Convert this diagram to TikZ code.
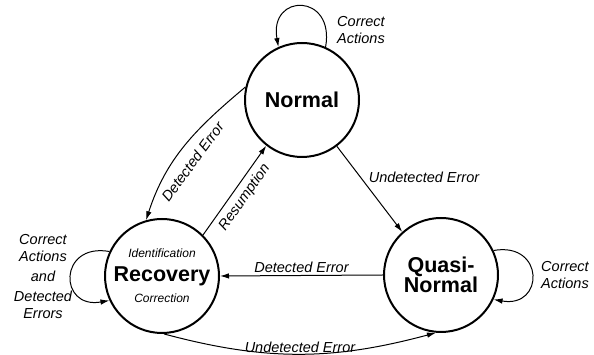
\documentclass[tikz,border=0pt]{standalone}
\usepackage{fontspec}
\setmainfont{Liberation Sans}
\usetikzlibrary{arrows.meta}

\begin{document}
\begin{tikzpicture}[
    x=1pt, y=1pt,
    state/.style={
      circle,
      draw=black,
      line width=2pt,
      minimum size=114pt,
      inner sep=0pt,
      align=center,
      font=\fontsize{21.5}{20.5}\selectfont\bfseries
    },
    trans/.style={
      -{Latex[length=9pt,width=5.5pt]},
      line width=1pt
    },
    lbl/.style={
      font=\fontsize{14.5}{17}\selectfont\itshape,
      inner sep=2pt
    },
    sub/.style={
      font=\fontsize{12}{12}\selectfont\itshape,
      inner sep=0pt
    }
  ]
    \useasboundingbox (0,0) rectangle (594,355);

    % States
    \node[state] (normal) at (302,255) {Normal};
    \node[state] (recovery) at (162,79) {Recovery};
    \node[state] (quasi) at (441,80) {Quasi-\\Normal};

    \node[sub] (ident) at ([yshift=23pt]recovery.center) {Identification};
    \node[sub] (corr) at ([yshift=-22pt]recovery.center) {Correction};

    % Self loops
    \draw[trans] (normal.66) .. controls +(80:55) and +(100:55) .. (normal.114);
    \draw[trans] (recovery.155) .. controls +(170:52) and +(190:52) .. (recovery.205);
    \draw[trans] (quasi.25) .. controls +(10:52) and +(-10:52) .. (quasi.335);

    \node[lbl, align=left] (ca1) at (361,325) {Correct\\Actions};
    \node[lbl, align=left] (ca2) at (565,80) {Correct\\Actions};
    \node[lbl, align=center] (ca3) at (43,78) {Correct\\Actions\\[3pt]and\\[3pt]Detected\\Errors};

    % Transitions
    \draw[trans] (normal.167) to[out=220, in=72]
      node[lbl, sloped, below=8pt, pos=0.55] {Detected Error} (recovery.106);
    \draw[trans] (recovery.45) --
      node[lbl, sloped, below=3pt] {Resumption} (normal.232);
    \draw[trans] (normal.307) --
      node[lbl, pos=0.45, anchor=south west] {Undetected Error} (quasi.132);
    \draw[trans] (quasi.west) --
      node[lbl, above] {Detected Error} (recovery.east);
    \draw[trans] (recovery.-88) to[out=-15, in=195]
      node[lbl, pos=0.5, anchor=south, inner sep=1pt] {Undetected Error} (quasi.-95);

\end{tikzpicture}
\end{document}
